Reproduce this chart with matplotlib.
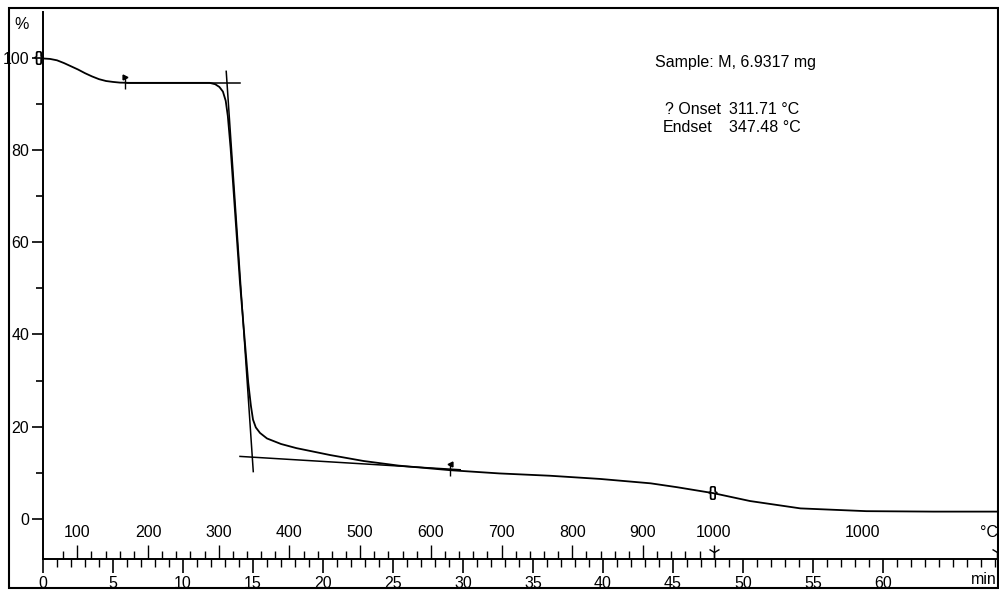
import matplotlib.pyplot as plt
import matplotlib.transforms as mtransforms
from matplotlib.patches import Rectangle
import numpy as np

plt.rcParams['font.family'] = ['Liberation Sans', 'DejaVu Sans']

# TGA weight loss curve: time (min) vs. residual mass (%)
time_min = [0.0, 0.5, 1.0, 1.5, 2.0, 2.5, 3.0, 3.5, 4.0, 4.5, 5.0, 5.5, 6.2,
            8.0, 10.0, 11.9, 12.3, 12.6, 12.85, 13.05, 13.2, 13.4, 14.07,
            14.66, 14.85, 15.0, 15.2, 15.5, 16.0, 17.0, 18.1, 20.5, 22.9,
            25.4, 29.1, 32.6, 36.2, 39.8, 43.4, 45.3, 47.9, 50.5, 54.1,
            58.8, 63.6, 68.2]
mass_pct = [100.0, 99.9, 99.6, 99.0, 98.3, 97.6, 96.8, 96.1, 95.5, 95.1,
            94.9, 94.75, 94.7, 94.7, 94.7, 94.7, 94.4, 93.8, 92.8, 90.8,
            87.5, 80.5, 51.2, 29.5, 24.5, 21.5, 19.8, 18.6, 17.4, 16.2,
            15.3, 13.8, 12.5, 11.5, 10.5, 9.8, 9.3, 8.6, 7.65, 6.8, 5.5,
            3.8, 2.2, 1.6, 1.5, 1.5]

sample_text = "Sample: M, 6.9317 mg"
onset_c = 311.71
endset_c = 347.48

# heating program: ~19.8 K/min, 100 °C reached at 2.45 min, then 1000 °C hold
rate = 19.8
t_100 = 2.45
temp_labels = [100, 200, 300, 400, 500, 600, 700, 800, 900, 1000]
hold_label_time = 58.5


def temp_to_time(temp):
    return t_100 + (np.asarray(temp, dtype=float) - 100) / rate


t_on = float(temp_to_time(onset_c))
t_end = float(temp_to_time(endset_c))

# baselines used for the onset / endset construction
upper_level = 94.7
lower_t = [14.07, 29.8]
lower_y = [13.5, 10.6]
lower_slope = (lower_y[1] - lower_y[0]) / (lower_t[1] - lower_t[0])
y_end = lower_y[0] + lower_slope * (t_end - lower_t[0])
steep_slope = (y_end - upper_level) / (t_end - t_on)

FS = 11.5

fig = plt.figure(figsize=(9.99, 5.91), dpi=100)
ax = fig.add_axes([43 / 999, 32 / 591, 954 / 999, 547 / 591])
ax.set_xlim(0, 68.14)
ax.set_ylim(-8.8, 110.1)

ax.plot(time_min, mass_pct, color='black', lw=1.3)

# tangent lines
ax.plot([6.0, lower_t[0]], [upper_level, upper_level], color='black', lw=1.1)
ax.plot(lower_t, lower_y, color='black', lw=1.1)
y_top, y_bot = 97.2, 10.2
ax.plot([t_on + (y_top - upper_level) / steep_slope, t_on + (y_bot - upper_level) / steep_slope],
        [y_top, y_bot], color='black', lw=1.1)

# evaluation limits
lim_t = [5.86, 29.07]
lim_y = [94.7, 10.6]
ax.plot(lim_t, lim_y, ls='none', marker='|', ms=9, mew=1.0, color='black')
ax.plot(lim_t[0], lim_y[0] + 1.3, ls='none', marker='>', ms=3.5, color='black')
ax.plot(lim_t[1], lim_y[1] + 1.3, ls='none', marker='<', ms=3.5, color='black')
ax.text(47.9, 5.6, '{}', fontsize=10, fontweight='bold', ha='center', va='center')
ax.text(-0.3, 100.0, '{}', fontsize=10, fontweight='bold', ha='center', va='center',
        clip_on=False)

# axes styling
for side in ['top', 'right']:
    ax.spines[side].set_visible(False)
ax.spines['left'].set_linewidth(1.4)
ax.spines['bottom'].set_linewidth(1.4)

ax.set_yticks([0, 20, 40, 60, 80, 100])
ax.set_yticks([10, 30, 50, 70, 90], minor=True)
ax.tick_params(axis='y', which='major', length=8, width=1.2, labelsize=FS, pad=2)
ax.tick_params(axis='y', which='minor', length=5, width=1.2)

ax.set_xticks(np.arange(0, 61, 5))
ax.set_xticks(np.arange(0, 69, 1), minor=True)
ax.tick_params(axis='x', which='major', length=10, width=1.2, labelsize=FS, pad=2)
ax.tick_params(axis='x', which='minor', length=6, width=1.0)

# temperature scale on the same baseline, ticks pointing up
ax2 = ax.twiny()
ax2.set_xlim(ax.get_xlim())
for side in ['top', 'right', 'left', 'bottom']:
    ax2.spines[side].set_visible(False)
ax2.xaxis.set_ticks_position('bottom')
ax2.set_xticks(temp_to_time(temp_labels))
ax2.set_xticks(temp_to_time(np.arange(80, 1001, 20)), minor=True)
ax2.tick_params(axis='x', which='both', direction='in', labelbottom=False,
                labeltop=False, width=1.0)
ax2.tick_params(axis='x', which='major', length=10)
ax2.tick_params(axis='x', which='minor', length=6)

trans = mtransforms.blended_transform_factory(ax.transData, ax.transAxes)
for temp, t in zip(temp_labels, temp_to_time(temp_labels)):
    ax.text(t, 0.048, str(temp), transform=trans, fontsize=FS, ha='center', va='center')
ax.text(hold_label_time, 0.048, '1000', transform=trans, fontsize=FS, ha='center', va='center')
ax.text(67.6, 0.048, '°C', transform=trans, fontsize=FS, ha='center', va='center', clip_on=False)
ax.plot([float(temp_to_time(1000)), 68.14], [0.012, 0.012], transform=trans, ls='none',
        marker='1', ms=9, mew=1.0, color='black', clip_on=False)
ax.text(67.2, -0.038, 'min', transform=trans, fontsize=FS, ha='center', va='center')

ax.text(-1.5, 0.978, '%', transform=trans, fontsize=FS, ha='center', va='center')

# report text
ax.text(43.7, 99.2, sample_text, fontsize=FS, va='center')
ax.text(44.4, 88.8, '? Onset', fontsize=FS, va='center')
ax.text(49.0, 88.8, f'{onset_c:.2f} °C', fontsize=FS, va='center')
ax.text(44.3, 85.1, 'Endset', fontsize=FS, va='center')
ax.text(49.0, 85.1, f'{endset_c:.2f} °C', fontsize=FS, va='center')

# outer frame
fig.patches.append(Rectangle((9 / 999, 3 / 591), 989 / 999, 580 / 591, transform=fig.transFigure,
                             fill=False, lw=1.5, edgecolor='black'))

fig.savefig('out.png', dpi=100)
